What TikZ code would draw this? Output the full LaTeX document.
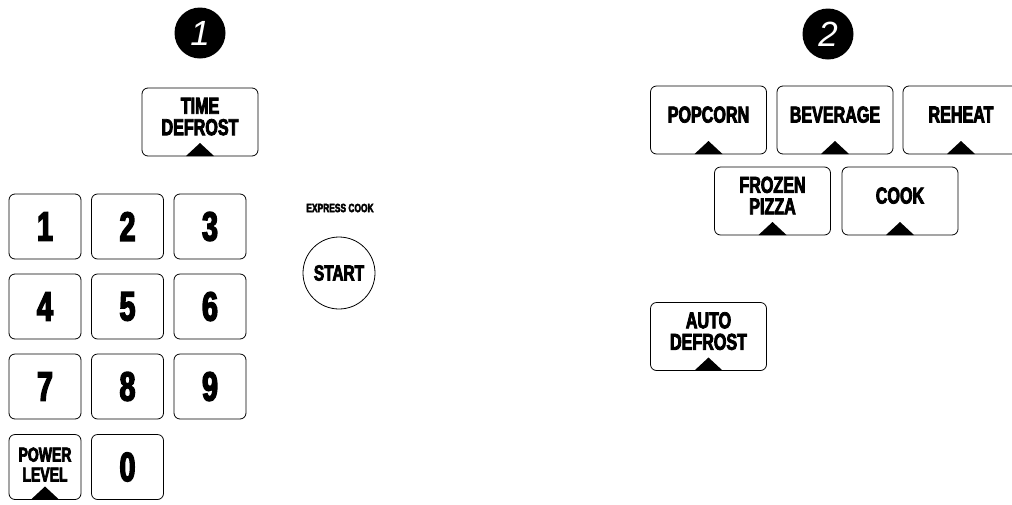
\documentclass[tikz,border=0pt]{standalone}
\usepackage{fontspec}
\newfontfamily\keyfont[FakeStretch=0.7, FakeBold=3.5]{Liberation Sans}
\newfontfamily\dotfont{Liberation Sans}
\begin{document}
\begin{tikzpicture}[x=1pt, y=-1pt,
    key/.style={draw, rounded corners=6pt, line width=0.8pt, align=center, inner sep=0pt},
    padkey/.style={key, minimum width=72pt, minimum height=65pt,
        font=\keyfont\bfseries\fontsize{41}{41}\selectfont},
    progkey/.style={key, minimum width=116pt, minimum height=68pt, text depth=11pt,
        font=\keyfont\bfseries\fontsize{23}{21.5}\selectfont},
    arrowkey/.style={path picture={
        \fill[sharp corners] ([xshift=-14pt]path picture bounding box.south)
            -- ([xshift=14pt]path picture bounding box.south)
            -- ([yshift=13pt]path picture bounding box.south) -- cycle;}},
    stepdot/.style={circle, fill=black, minimum size=51pt, inner sep=0pt, text=white,
        font=\dotfont\itshape\fontsize{35}{35}\selectfont}]
    \clip (0,0) rectangle (1012,504);

    % step 1
    \node[stepdot] (stepone) at (200,33) {1};
    \node[progkey, arrowkey] (timedefrost) at (200,122) {TIME\\DEFROST};

    \node[padkey] (pad1) at (45,226.5) {1};
    \node[padkey] (pad2) at (127.5,226.5) {2};
    \node[padkey] (pad3) at (210,226.5) {3};
    \node[padkey] (pad4) at (45,306.5) {4};
    \node[padkey] (pad5) at (127.5,306.5) {5};
    \node[padkey] (pad6) at (210,306.5) {6};
    \node[padkey] (pad7) at (45,386.5) {7};
    \node[padkey] (pad8) at (127.5,386.5) {8};
    \node[padkey] (pad9) at (210,386.5) {9};
    \node[padkey, arrowkey, text depth=5pt, font=\keyfont\bfseries\fontsize{20}{20}\selectfont]
        (powerlevel) at (45,467) {POWER\\LEVEL};
    \node[padkey] (pad0) at (127.5,467) {0};

    \node[draw, circle, line width=0.8pt, minimum size=72pt, inner sep=0pt,
        font=\keyfont\bfseries\fontsize{22}{22}\selectfont] (start) at (339,273) {START};
    \node[font=\keyfont\bfseries\fontsize{12}{12}\selectfont] (express) at (340,208) {EXPRESS COOK};

    % step 2
    \node[stepdot] (steptwo) at (828,34) {2};
    \node[progkey, arrowkey] (popcorn) at (708.5,120) {POPCORN};
    \node[progkey, arrowkey] (beverage) at (835,120) {BEVERAGE};
    \node[progkey, arrowkey] (reheat) at (961,120) {REHEAT};
    \node[progkey, arrowkey] (frozenpizza) at (772.5,201) {FROZEN\\PIZZA};
    \node[progkey, arrowkey] (cook) at (900,201) {COOK};
    \node[progkey, arrowkey] (autodefrost) at (708.5,336.5) {AUTO\\DEFROST};
\end{tikzpicture}
\end{document}
